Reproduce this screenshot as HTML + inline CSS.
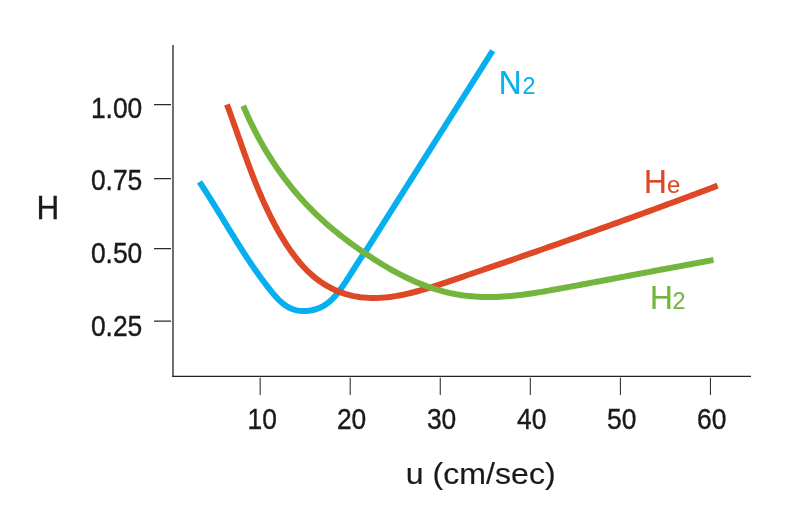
<!DOCTYPE html>
<html><head><meta charset="utf-8"><title>H vs u</title>
<style>
html,body{margin:0;padding:0;background:#fff;}
svg{display:block;}
text{font-family:"Liberation Sans",sans-serif;}
</style></head><body>
<svg width="800" height="530" viewBox="0 0 800 530">
<rect width="800" height="530" fill="#fff"/>
<g fill="none">
<path stroke="#222" stroke-width="1.3" d="M173,45 V377"/>
<path stroke="#222" stroke-width="1.1" d="M172.4,376.35 H751"/>
<path stroke="#2a2a2a" stroke-width="1.1" d="M154,104.6 H171 M154,178.6 H171 M154,248.6 H171 M154,321.1 H171"/>
<path stroke="#2a2a2a" stroke-width="1.05" d="M260.15,377.8 V394.9 M350.2,377.8 V394.9 M440.25,377.8 V394.9 M530.3,377.8 V394.9 M620.4,377.8 V394.9 M710.45,377.8 V394.9"/>
</g>
<g fill="none" stroke-width="6" stroke-linejoin="round">
<path stroke="#06afef" d="M199.47,181.90 L200.52,183.50 L201.58,185.09 L202.62,186.68 L203.66,188.28 L204.69,189.87 L205.72,191.47 L206.74,193.07 L207.76,194.66 L208.78,196.26 L209.79,197.86 L210.79,199.46 L211.79,201.06 L212.79,202.66 L213.79,204.26 L214.78,205.86 L215.77,207.46 L216.75,209.06 L217.74,210.66 L218.72,212.26 L219.70,213.86 L220.68,215.45 L221.65,217.05 L222.63,218.65 L223.60,220.25 L224.58,221.85 L225.55,223.45 L226.53,225.04 L227.50,226.64 L228.47,228.23 L229.45,229.83 L230.43,231.42 L231.40,233.01 L232.38,234.60 L233.36,236.19 L234.35,237.78 L235.33,239.37 L236.32,240.96 L237.31,242.54 L238.30,244.12 L239.30,245.71 L240.29,247.29 L241.30,248.87 L242.30,250.44 L243.32,252.02 L244.33,253.59 L245.35,255.16 L246.38,256.73 L247.41,258.30 L248.44,259.86 L249.49,261.43 L250.53,262.99 L251.59,264.55 L252.65,266.10 L253.71,267.66 L254.79,269.21 L255.87,270.76 L256.96,272.30 L258.05,273.85 L259.16,275.39 L260.27,276.93 L261.39,278.46 L262.52,279.99 L263.66,281.52 L264.81,283.05 L265.96,284.57 L267.13,286.09 L268.31,287.60 L269.50,289.12 L270.69,290.63 L271.90,292.13 L273.13,293.61 L274.37,295.08 L275.64,296.51 L276.92,297.92 L278.24,299.28 L279.58,300.60 L280.95,301.87 L282.35,303.08 L283.79,304.22 L285.26,305.30 L286.78,306.30 L288.34,307.21 L289.95,308.04 L291.61,308.77 L293.31,309.39 L295.07,309.92 L296.86,310.34 L298.70,310.66 L300.56,310.89 L302.44,311.01 L304.34,311.04 L306.25,310.97 L308.16,310.81 L310.06,310.56 L311.96,310.21 L313.84,309.78 L315.69,309.26 L317.51,308.65 L319.30,307.95 L321.04,307.18 L322.73,306.32 L324.37,305.38 L325.94,304.36 L327.46,303.27 L328.92,302.11 L330.33,300.89 L331.70,299.62 L333.02,298.29 L334.30,296.92 L335.55,295.50 L336.76,294.06 L337.94,292.58 L339.09,291.08 L340.23,289.56 L341.34,288.03 L342.44,286.49 L343.52,284.94 L344.58,283.38 L345.64,281.81 L346.68,280.24 L347.71,278.66 L348.74,277.08 L349.75,275.50 L350.76,273.91 L351.77,272.32 L352.78,270.72 L353.78,269.13 L354.78,267.54 L355.78,265.95 L356.79,264.36 L357.80,262.77 L358.82,261.19 L359.84,259.62 L360.87,258.05 L361.91,256.48 L362.97,254.93 L364.03,253.38 L365.11,251.84 L366.21,250.31 L492.65,50.75"/>
<path stroke="#de4826" d="M226.93,104.47 L228.30,108.15 L229.64,111.84 L230.98,115.52 L232.30,119.21 L233.62,122.91 L234.93,126.60 L236.24,130.29 L237.54,133.98 L238.84,137.67 L240.14,141.36 L241.44,145.04 L242.75,148.72 L244.07,152.40 L245.39,156.08 L246.73,159.75 L248.07,163.41 L249.43,167.07 L250.81,170.72 L252.20,174.36 L253.61,178.00 L255.05,181.63 L256.50,185.25 L257.98,188.85 L259.49,192.45 L261.03,196.04 L262.60,199.62 L264.20,203.18 L265.83,206.73 L267.50,210.27 L269.21,213.80 L270.96,217.31 L272.75,220.81 L274.59,224.29 L276.47,227.75 L278.39,231.20 L280.37,234.63 L282.40,238.04 L284.48,241.43 L286.62,244.78 L288.82,248.09 L291.08,251.36 L293.41,254.57 L295.80,257.72 L298.27,260.80 L300.81,263.81 L303.42,266.72 L306.12,269.55 L308.90,272.28 L311.76,274.90 L314.72,277.40 L317.76,279.78 L320.90,282.04 L324.13,284.15 L327.46,286.13 L330.86,287.97 L334.34,289.66 L337.89,291.20 L341.50,292.59 L345.17,293.83 L348.89,294.90 L352.65,295.82 L356.45,296.57 L360.28,297.16 L364.14,297.58 L368.02,297.85 L371.92,297.97 L375.82,297.95 L379.73,297.81 L383.64,297.54 L387.55,297.16 L391.45,296.68 L395.34,296.10 L399.21,295.44 L403.06,294.70 L406.89,293.87 L410.71,292.99 L414.52,292.03 L418.31,291.02 L422.09,289.96 L425.87,288.85 L429.63,287.71 L433.38,286.53 L437.13,285.32 L440.87,284.09 L444.61,282.84 L448.34,281.59 L452.07,280.33 L455.79,279.07 L459.52,277.81 L463.24,276.55 L466.96,275.28 L470.68,274.02 L474.40,272.75 L478.11,271.49 L481.82,270.22 L485.54,268.95 L489.25,267.68 L492.95,266.41 L496.66,265.14 L500.36,263.87 L504.07,262.59 L507.77,261.32 L511.47,260.04 L515.16,258.76 L518.86,257.48 L522.56,256.20 L526.25,254.92 L529.94,253.64 L533.63,252.35 L537.32,251.07 L541.01,249.78 L544.70,248.49 L548.39,247.20 L552.07,245.91 L555.76,244.61 L559.44,243.32 L563.12,242.02 L566.81,240.72 L570.49,239.42 L574.17,238.12 L577.85,236.81 L581.53,235.51 L585.21,234.20 L588.88,232.89 L592.56,231.58 L596.24,230.26 L599.91,228.95 L603.59,227.63 L607.27,226.31 L610.94,224.99 L614.62,223.67 L618.29,222.34 L621.97,221.01 L625.64,219.69 L629.32,218.35 L632.99,217.02 L636.67,215.68 L640.34,214.34 L644.01,213.00 L647.69,211.66 L651.36,210.32 L655.04,208.97 L658.72,207.62 L662.39,206.27 L666.07,204.91 L669.74,203.55 L673.42,202.19 L677.10,200.83 L680.78,199.47 L684.46,198.10 L688.13,196.73 L691.81,195.36 L695.50,193.98 L699.18,192.61 L702.86,191.23 L706.54,189.84 L710.23,188.46 L713.91,187.07 L717.60,185.68"/>
<path stroke="#74b53e" d="M243.26,105.73 L244.64,108.99 L246.04,112.23 L247.48,115.45 L248.95,118.66 L250.45,121.85 L251.98,125.02 L253.54,128.18 L255.13,131.31 L256.75,134.43 L258.40,137.52 L260.08,140.60 L261.79,143.66 L263.54,146.69 L265.31,149.71 L267.11,152.71 L268.95,155.68 L270.81,158.63 L272.71,161.56 L274.63,164.47 L276.59,167.36 L278.57,170.22 L280.59,173.06 L282.64,175.87 L284.71,178.67 L286.82,181.43 L288.96,184.18 L291.13,186.89 L293.32,189.59 L295.55,192.25 L297.81,194.89 L300.10,197.51 L302.41,200.10 L304.76,202.66 L307.14,205.19 L309.55,207.70 L311.98,210.18 L314.45,212.63 L316.95,215.05 L319.47,217.44 L322.03,219.81 L324.61,222.14 L327.23,224.45 L329.86,226.73 L332.53,228.99 L335.22,231.22 L337.93,233.42 L340.67,235.60 L343.43,237.75 L346.22,239.88 L349.02,241.99 L351.85,244.07 L354.69,246.13 L357.55,248.17 L360.44,250.19 L363.34,252.18 L366.25,254.16 L369.18,256.11 L372.13,258.04 L375.10,259.95 L378.08,261.83 L381.08,263.68 L384.10,265.50 L387.13,267.29 L390.18,269.04 L393.25,270.76 L396.34,272.44 L399.45,274.08 L402.57,275.69 L405.71,277.24 L408.87,278.76 L412.05,280.22 L415.24,281.64 L418.46,283.00 L421.69,284.32 L424.93,285.57 L428.20,286.77 L431.48,287.91 L434.77,288.99 L438.08,290.00 L441.41,290.95 L444.75,291.83 L448.11,292.64 L451.48,293.38 L454.87,294.05 L458.27,294.64 L461.68,295.17 L465.11,295.63 L468.54,296.02 L471.99,296.34 L475.44,296.61 L478.90,296.80 L482.37,296.94 L485.85,297.02 L489.32,297.04 L492.81,297.01 L496.29,296.92 L499.78,296.77 L503.27,296.58 L506.75,296.34 L510.24,296.05 L513.73,295.71 L517.22,295.34 L520.71,294.93 L524.20,294.48 L527.68,294.00 L531.17,293.50 L534.65,292.97 L538.13,292.41 L541.61,291.84 L545.09,291.25 L548.56,290.64 L552.03,290.03 L555.50,289.40 L558.97,288.77 L562.43,288.14 L565.89,287.51 L569.34,286.87 L572.79,286.23 L576.24,285.60 L579.69,284.96 L583.13,284.32 L586.57,283.68 L590.00,283.04 L593.44,282.40 L596.87,281.75 L600.30,281.11 L603.73,280.47 L607.16,279.82 L610.59,279.18 L614.01,278.54 L617.43,277.89 L620.86,277.25 L624.28,276.60 L627.70,275.96 L631.12,275.31 L634.54,274.67 L637.96,274.02 L641.38,273.38 L644.80,272.73 L648.22,272.09 L651.65,271.45 L655.07,270.80 L658.49,270.16 L661.92,269.52 L665.34,268.88 L668.77,268.24 L672.20,267.60 L675.63,266.97 L679.06,266.33 L682.49,265.70 L685.93,265.06 L689.37,264.43 L692.81,263.80 L696.25,263.17 L699.70,262.54 L703.15,261.92 L706.60,261.29 L710.06,260.67 L713.52,260.05"/>
</g>
<text transform="translate(142.3,117.6) scale(0.91,1)" font-size="29" text-anchor="end" fill="#1a1a1a" stroke="#1a1a1a" stroke-width="0.4">1.00</text>
<text transform="translate(142.3,190.4) scale(0.91,1)" font-size="29" text-anchor="end" fill="#1a1a1a" stroke="#1a1a1a" stroke-width="0.4">0.75</text>
<text transform="translate(142.3,263.1) scale(0.91,1)" font-size="29" text-anchor="end" fill="#1a1a1a" stroke="#1a1a1a" stroke-width="0.4">0.50</text>
<text transform="translate(142.3,335.8) scale(0.91,1)" font-size="29" text-anchor="end" fill="#1a1a1a" stroke="#1a1a1a" stroke-width="0.4">0.25</text>
<text transform="translate(262.3,429) scale(0.91,1)" font-size="29" text-anchor="middle" fill="#1a1a1a" stroke="#1a1a1a" stroke-width="0.4">10</text>
<text transform="translate(351.6,429) scale(0.91,1)" font-size="29" text-anchor="middle" fill="#1a1a1a" stroke="#1a1a1a" stroke-width="0.4">20</text>
<text transform="translate(441.6,429) scale(0.91,1)" font-size="29" text-anchor="middle" fill="#1a1a1a" stroke="#1a1a1a" stroke-width="0.4">30</text>
<text transform="translate(531.7,429) scale(0.91,1)" font-size="29" text-anchor="middle" fill="#1a1a1a" stroke="#1a1a1a" stroke-width="0.4">40</text>
<text transform="translate(621.7,429) scale(0.91,1)" font-size="29" text-anchor="middle" fill="#1a1a1a" stroke="#1a1a1a" stroke-width="0.4">50</text>
<text transform="translate(711.7,429) scale(0.91,1)" font-size="29" text-anchor="middle" fill="#1a1a1a" stroke="#1a1a1a" stroke-width="0.4">60</text>
<text transform="translate(36.5,219) scale(0.955,1)" font-size="33" text-anchor="start" fill="#1a1a1a" stroke="#1a1a1a" stroke-width="0.3">H</text>
<text transform="translate(405.8,483.6) scale(1.06,1)" font-size="30.3" text-anchor="start" fill="#1a1a1a" stroke="#1a1a1a" stroke-width="0.15">u (cm/sec)</text>
<text transform="translate(498.7,94.4) scale(0.955,1)" font-size="33" text-anchor="start" fill="#06afef" stroke="#06afef" stroke-width="0.25">N</text>
<text transform="translate(522.5,94.4) scale(1,1)" font-size="23.4" text-anchor="start" fill="#06afef" stroke="#06afef" stroke-width="0.1">2</text>
<text transform="translate(643.9,192.75) scale(0.955,1)" font-size="33" text-anchor="start" fill="#de4826" stroke="#de4826" stroke-width="0.25">H</text>
<text transform="translate(666.9,192.75) scale(1,1)" font-size="24" text-anchor="start" fill="#de4826" stroke="#de4826" stroke-width="0.1">e</text>
<text transform="translate(650,309.2) scale(0.955,1)" font-size="33" text-anchor="start" fill="#74b53e" stroke="#74b53e" stroke-width="0.25">H</text>
<text transform="translate(672.5,309.2) scale(1,1)" font-size="23.4" text-anchor="start" fill="#74b53e" stroke="#74b53e" stroke-width="0.1">2</text>
</svg>
</body></html>
